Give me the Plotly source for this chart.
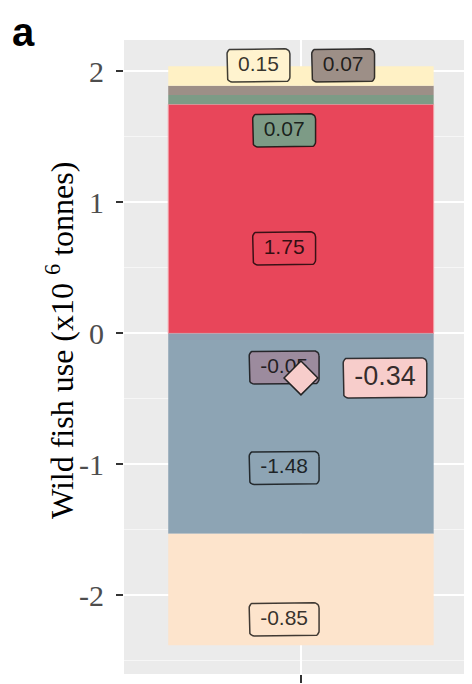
import math
import plotly.graph_objects as go

# components of the change in wild fish use (x10^6 tonnes)
components = ["Gain 1", "Gain 2", "Gain 3", "Gain 4", "Saving 1", "Saving 2", "Saving 3"]
values = [1.75, 0.07, 0.07, 0.15, -0.05, -1.48, -0.85]
bar_colors = ["#E8465A", "#7D9B86", "#9D8F87", "#FFF1C5", "#8E9FB1", "#8DA4B4", "#FDE4CC"]
label_fills = ["#E8465A", "#7D9B86", "#9D8F87", "#FFF3CF", "#9C8B9E", "#8DA4B4", "#FDE4CC"]
net_color = "#F7CDCB"

# repelled label positions (data units)
label_x = [0.943, 0.943, 1.143, 0.856, 0.943, 0.943, 0.943]
label_y = [0.649, 1.55, 2.046, 2.046, -0.26, -1.027, -2.183]
net_label_x = 1.285

tick_vals = [-2, -1, 0, 1, 2]
tick_text = ["-2", "-1", "0", "1", "2"]

# the page body adds an 8px margin, so the figure is drawn 8px smaller
W, H = 464, 676
MARGIN = dict(l=116, r=0, t=32, b=10)
PLOT_W = W - MARGIN["l"] - MARGIN["r"]
PLOT_H = H - MARGIN["t"] - MARGIN["b"]
X_RANGE = [0.4, 1.58]
Y_RANGE = [-2.6, 2.24]
SX = PLOT_W / (X_RANGE[1] - X_RANGE[0])
SY = PLOT_H / (Y_RANGE[1] - Y_RANGE[0])

CHAR_W = {".": 0.278, "-": 0.333}


def text_width(s, size):
    return sum(CHAR_W.get(c, 0.556) for c in s) * size


def rounded_box(cx, cy, w, h, r=5, n=6):
    # polygon of a rounded rectangle, sized in px, centred at a data point
    pts = []
    corners = [(w / 2 - r, h / 2 - r, 0), (-(w / 2 - r), h / 2 - r, 90),
               (-(w / 2 - r), -(h / 2 - r), 180), (w / 2 - r, -(h / 2 - r), 270)]
    for ox, oy, a0 in corners:
        for k in range(n + 1):
            a = math.radians(a0 + 90 * k / n)
            pts.append((ox + r * math.cos(a), oy + r * math.sin(a)))
    pts.append(pts[0])
    xs = [cx + dx / SX for dx, dy in pts]
    ys = [cy + dy / SY for dx, dy in pts]
    return xs, ys


def add_label(fig, cx, cy, txt, fill, size):
    w = text_width(txt, size) + 22
    h = 1.15 * size + 9
    xs, ys = rounded_box(cx, cy, w, h)
    fig.add_trace(go.Scatter(x=xs, y=ys, mode="lines", fill="toself", fillcolor=fill,
                             line=dict(color="rgba(0,0,0,0.75)", width=1.5),
                             hoverinfo="skip", showlegend=False))
    fig.add_trace(go.Scatter(x=[cx], y=[cy], mode="text", text=[txt], textposition="middle center",
                             textfont=dict(family="Liberation Sans", size=size, color="rgba(0,0,0,0.8)"),
                             hoverinfo="skip", showlegend=False))


fig = go.Figure()

for name, v, c in zip(components, values, bar_colors):
    line = dict(color="#F4A0A8", width=1) if c == "#E8465A" else dict(width=0)
    fig.add_trace(go.Bar(x=[1], y=[v], name=name, width=0.9, marker=dict(color=c, line=line), showlegend=False))

for v, c, lx, ly in zip(values, label_fills, label_x, label_y):
    add_label(fig, lx, ly, f"{v:.2f}", c, 21)

net = round(sum(values), 2)
fig.add_trace(go.Scatter(x=[1], y=[net], mode="markers", showlegend=False,
                         marker=dict(symbol="diamond", size=26, color=net_color,
                                     line=dict(color="#222222", width=1.5))))
add_label(fig, net_label_x, net, f"{net:.2f}", net_color, 27)

fig.update_layout(
    width=W,
    height=H,
    margin=MARGIN,
    barmode="relative",
    paper_bgcolor="white",
    plot_bgcolor="#EBEBEB",
    showlegend=False,
)

fig.update_xaxes(
    range=X_RANGE,
    tickvals=[1],
    showticklabels=False,
    ticks="outside",
    ticklen=8,
    tickwidth=1.5,
    tickcolor="#333333",
    showgrid=True,
    gridcolor="white",
    gridwidth=2,
    zeroline=False,
    showline=False,
    fixedrange=True,
)

fig.update_yaxes(
    range=Y_RANGE,
    tickvals=tick_vals,
    ticktext=tick_text,
    ticks="outside",
    ticklen=7,
    tickwidth=1.5,
    tickcolor="#333333",
    ticklabelstandoff=6,
    tickfont=dict(family="Liberation Serif", size=30, color="#4D4D4D"),
    showgrid=True,
    gridcolor="white",
    gridwidth=2,
    minor=dict(tickmode="array", tickvals=[-2.5, -1.5, -0.5, 0.5, 1.5],
               showgrid=True, gridcolor="#F6F6F6", gridwidth=1, ticks=""),
    zeroline=False,
    showline=False,
    fixedrange=True,
)

# y axis title placed by hand so it sits where the original has it
fig.add_annotation(
    text="Wild fish use (x10 <sup>6</sup> tonnes)",
    xref="paper", yref="paper",
    x=(52 - MARGIN["l"]) / PLOT_W, y=(H - MARGIN["b"] - 333) / PLOT_H,
    xanchor="center", yanchor="middle",
    textangle=-90, showarrow=False,
    font=dict(family="Liberation Serif", size=32, color="black"),
)

# panel tag
fig.add_annotation(
    text="<b>a</b>",
    xref="paper", yref="paper",
    x=(2 - MARGIN["l"]) / PLOT_W, y=1 + MARGIN["t"] / PLOT_H,
    xanchor="left", yanchor="top", showarrow=False,
    font=dict(family="Liberation Sans", size=40, color="black"),
)

fig.write_html("out.html")
